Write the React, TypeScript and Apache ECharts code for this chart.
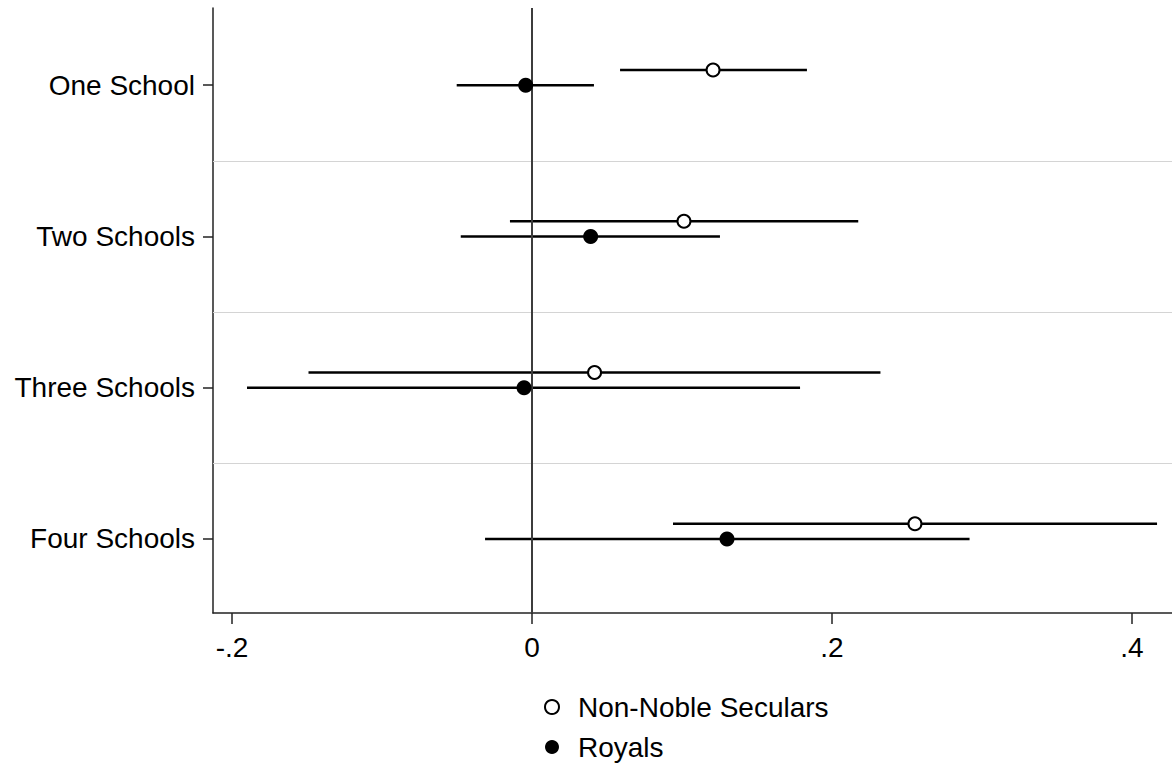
import React, { useEffect, useRef } from "react";
import * as echarts from "echarts";

const categories = ["One School", "Two Schools", "Three Schools", "Four Schools"];
const seriesNames = ["Non-Noble Seculars", "Royals"];
// point estimates and confidence bounds
const nonNobleEst = [0.1207, 0.1013, 0.0417, 0.2553];
const nonNobleLo = [0.0587, -0.0147, -0.149, 0.094];
const nonNobleHi = [0.1833, 0.2175, 0.2323, 0.4167];
const royalsEst = [-0.0042, 0.0391, -0.0053, 0.13];
const royalsLo = [-0.0502, -0.0475, -0.19, -0.0313];
const royalsHi = [0.0413, 0.1253, 0.1787, 0.2917];
const xTicks = [-0.2, 0, 0.2, 0.4];
const yTicks = [1, 2, 3, 4];
const separators = [1.5, 2.5, 3.5];
const nonNobleOffset = -0.1;

const FONT = "'Liberation Sans', Arial, sans-serif";

function fmtX(v: number): string {
  if (Math.abs(v) < 1e-9) return "0";
  const s = String(Math.round(Math.abs(v) * 1000) / 1000).replace(/^0/, "");
  return (v < 0 ? "-" : "") + s;
}

export default function App() {
  const ref = useRef<HTMLDivElement>(null);
  useEffect(() => {
    if (!ref.current) return;
    const chart = echarts.init(ref.current, undefined, { renderer: "svg" });
    const nnBars = categories.map((_, i) => [nonNobleLo[i], nonNobleHi[i], i + 1 + nonNobleOffset]);
    const rBars = categories.map((_, i) => [royalsLo[i], royalsHi[i], i + 1]);
    const nnPts = categories.map((_, i) => [nonNobleEst[i], i + 1 + nonNobleOffset]);
    const rPts = categories.map((_, i) => [royalsEst[i], i + 1]);
    const renderBar = (params: any, api: any) => {
      const s = api.coord([api.value(0), api.value(2)]);
      const e = api.coord([api.value(1), api.value(2)]);
      return {
        type: "line",
        shape: { x1: s[0], y1: s[1], x2: e[0], y2: e[1] },
        style: { stroke: "#000", lineWidth: 2.5 },
      };
    };
    chart.setOption({
      animation: false,
      backgroundColor: "#fff",
      grid: { left: 213, right: 0, top: 8, bottom: 152, containLabel: false },
      xAxis: {
        type: "value",
        min: -0.21267,
        max: 0.42667,
        splitLine: { show: false },
        axisLine: { show: true, onZero: false, lineStyle: { color: "#222", width: 1.5 } },
        axisTick: { show: true, customValues: xTicks, length: 11, lineStyle: { color: "#222", width: 1.5 } },
        axisLabel: {
          customValues: xTicks,
          formatter: (v: number) => fmtX(v),
          color: "#000",
          fontFamily: FONT,
          fontSize: 28,
          margin: 20,
        },
      },
      yAxis: {
        type: "value",
        inverse: true,
        min: 0.49,
        max: 4.49,
        splitLine: { show: false },
        axisLine: { show: true, onZero: false, lineStyle: { color: "#222", width: 1.5 } },
        axisTick: { show: true, customValues: yTicks, length: 10, lineStyle: { color: "#222", width: 1.5 } },
        axisLabel: {
          customValues: yTicks,
          formatter: (v: number) => categories[Math.round(v) - 1] || "",
          color: "#000",
          fontFamily: FONT,
          fontSize: 28,
          margin: 18,
        },
      },
      legend: {
        orient: "vertical",
        left: 544,
        top: 693,
        padding: 0,
        itemWidth: 14,
        itemHeight: 14,
        itemGap: 12,
        textStyle: {
          color: "#000",
          fontFamily: FONT,
          fontSize: 28,
          lineHeight: 27,
          padding: [0, 0, 0, 14],
        },
        data: [
          { name: seriesNames[0], icon: "circle", itemStyle: { color: "#fff", borderColor: "#000", borderWidth: 2 } },
          { name: seriesNames[1], icon: "circle", itemStyle: { color: "#000" } },
        ],
      },
      series: [
        {
          type: "custom",
          name: "grid-lines",
          data: [],
          renderItem: () => null,
          markLine: {
            silent: true,
            symbol: "none",
            label: { show: false },
            lineStyle: { color: "#d4d4d4", width: 1, type: "solid" },
            data: separators.map((y) => ({ yAxis: y })),
          },
          z: 1,
        },
        {
          type: "custom",
          name: "zero-line",
          data: [],
          renderItem: () => null,
          markLine: {
            silent: true,
            symbol: "none",
            label: { show: false },
            lineStyle: { color: "#3c3c3c", width: 2, type: "solid" },
            data: [{ xAxis: 0 }],
          },
          z: 2,
        },
        {
          type: "custom",
          name: "nn-ci",
          data: nnBars,
          encode: { x: [0, 1], y: 2 },
          renderItem: renderBar,
          z: 3,
        },
        {
          type: "custom",
          name: "r-ci",
          data: rBars,
          encode: { x: [0, 1], y: 2 },
          renderItem: renderBar,
          z: 3,
        },
        {
          type: "scatter",
          name: seriesNames[0],
          data: nnPts,
          symbol: "circle",
          symbolSize: 13,
          itemStyle: { color: "#fff", borderColor: "#000", borderWidth: 2, opacity: 1 },
          z: 5,
        },
        {
          type: "scatter",
          name: seriesNames[1],
          data: rPts,
          symbol: "circle",
          symbolSize: 15,
          itemStyle: { color: "#000", opacity: 1 },
          z: 5,
        },
      ],
    });
    return () => chart.dispose();
  }, []);
  return (
    <div
      ref={ref}
      style={{ position: "fixed", left: 0, top: 0, width: 1172, height: 765, background: "#fff" }}
    />
  );
}
